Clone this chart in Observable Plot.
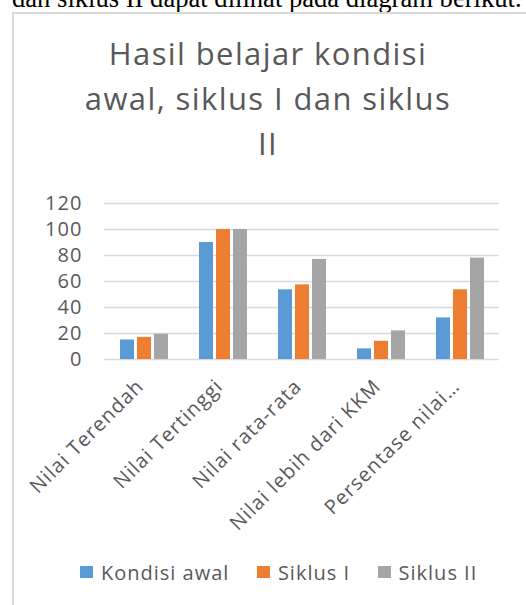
<!DOCTYPE html>
<html>
<head>
<meta charset="utf-8">
<script src="https://cdn.jsdelivr.net/npm/d3@7"></script>
<script src="https://cdn.jsdelivr.net/npm/@observablehq/plot@0.6"></script>
<style>
  html, body { margin: 0; padding: 0; background: #fff; }
  body { width: 526px; height: 605px; overflow: hidden; position: relative; font-family: "Open Sans", sans-serif; }
  #top { position: absolute; left: 12px; top: -17px; font-family: "Liberation Serif", serif; font-size: 26.6px; line-height: 30px; white-space: nowrap; color: #000; }
  #frame { position: absolute; left: 12px; top: 12px; width: 560px; height: 700px; border: 2px solid #d9d9d9; box-sizing: border-box; }
  #title { position: absolute; left: 0; top: 30.5px; width: 536px; text-align: center; font-size: 31px; line-height: 45px; letter-spacing: 1.4px; color: #595959; }
  #chart { position: absolute; left: 0; top: 190px; }
  #chart svg text { letter-spacing: 1.1px; }
  #legend { position: absolute; left: 80px; top: 559px; height: 26px; display: flex; align-items: center; gap: 27.5px; font-size: 20px; letter-spacing: 1px; color: #595959; white-space: nowrap; }
  .item { display: flex; align-items: center; gap: 8px; }
  .sw { width: 13px; height: 12px; display: inline-block; }
</style>
</head>
<body>
<div id="top">dan siklus II dapat dilihat pada diagram berikut.</div>
<div id="frame"></div>
<div id="title">Hasil belajar kondisi<br>awal, siklus I dan siklus<br>II</div>
<div id="chart"></div>
<div id="legend"></div>
<script>
const categories = ["Nilai Terendah", "Nilai Tertinggi", "Nilai rata-rata", "Nilai lebih dari KKM", "Persentase nilai…"];
const seriesNames = ["Kondisi awal", "Siklus I", "Siklus II"];
const kondisiAwal = [15, 90, 53.6, 8.2, 32];
const siklusI = [17, 100, 57.4, 14, 53.6];
const siklusII = [19.4, 100, 77, 22, 78];
const yTicks = [0, 20, 40, 60, 80, 100, 120];
const colors = ["#5b9bd5", "#ed7d31", "#a5a5a5"];

const seriesValues = [kondisiAwal, siklusI, siklusII];
const rows = [];
categories.forEach((c, i) => {
  seriesNames.forEach((s, j) => rows.push({category: c, series: s, value: seriesValues[j][i]}));
});

const chart = Plot.plot({
  width: 526,
  height: 350,
  marginLeft: 102,
  marginRight: 25,
  marginTop: 13,
  marginBottom: 181,
  style: {fontFamily: "Open Sans", fontSize: "20px", color: "#595959", background: "transparent"},
  fx: {domain: categories, padding: 0, axis: null},
  x: {domain: seriesNames, paddingInner: 0.19, paddingOuter: 0.91, axis: null},
  y: {domain: [0, 120], ticks: yTicks, tickSize: 0, tickPadding: 22, label: null, tickFormat: d => String(d)},
  color: {domain: seriesNames, range: colors},
  marks: [
    Plot.ruleY(yTicks, {stroke: "#d9d9d9", strokeWidth: 1.3}),
    Plot.barY(rows, {fx: "category", x: "series", y: "value", fill: "series"}),
    Plot.text(categories, {fx: d => d, text: d => d, frameAnchor: "bottom", rotate: -45, textAnchor: "end", lineAnchor: "bottom", dx: 1, dy: 28, fill: "#595959", fontSize: 20})
  ]
});
document.getElementById("chart").appendChild(chart);

const legend = document.getElementById("legend");
seriesNames.forEach((s, i) => {
  const item = document.createElement("div");
  item.className = "item";
  const sw = document.createElement("span");
  sw.className = "sw";
  sw.style.background = colors[i];
  const t = document.createElement("span");
  t.textContent = s;
  item.appendChild(sw);
  item.appendChild(t);
  legend.appendChild(item);
});
</script>
</body>
</html>
